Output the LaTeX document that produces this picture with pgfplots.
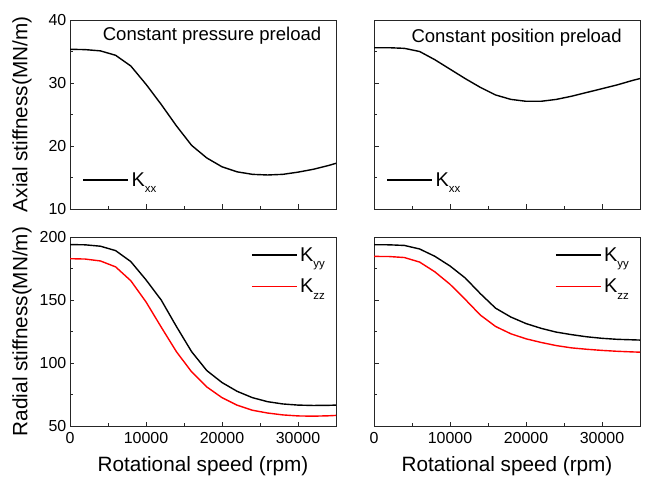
\documentclass[border=0pt]{standalone}
\usepackage{fontspec}
\setmainfont{Liberation Sans}
\usepackage{pgfplots}
\pgfplotsset{compat=1.18}
\newcommand{\Ksub}[1]{K\raisebox{-6.5bp}{\fontsize{11.5}{11.5}\selectfont #1}}
\pgfplotsset{
  panel/.style={
    scale only axis, width=266bp, height=189bp, anchor=north west,
    xmin=0, xmax=35000,
    xtick={0,10000,20000,30000}, minor xtick={5000,15000,25000,35000},
    scaled ticks=false,
    /pgf/number format/assume math mode=true,
    /pgf/number format/set thousands separator={},
    tick align=inside, xtick pos=bottom, ytick pos=left,
    major tick length=4.5bp, minor tick length=2.7bp,
    axis line style={line width=0.8bp, black!85},
    every tick/.style={black!85, line width=0.7bp},
    tick label style={font=\fontsize{16}{18}\selectfont},
    xticklabel style={inner sep=0pt, yshift=-6bp},
    yticklabel style={inner sep=0pt, xshift=-3.5bp},
    every axis y label/.style={at={(axis description cs:-0.18,0.5)}, rotate=90, anchor=center, font=\fontsize{20.8}{22}\selectfont},
    every axis x label/.style={at={(axis description cs:0.5,-0.21)}, anchor=center, font=\fontsize{20.8}{22}\selectfont},
    legend cell align=left,
    legend image code/.code={\draw[#1, line width=1.5bp] (0bp,0bp) -- (45bp,0bp);},
    legend style={draw=none, fill=none, inner sep=0pt,
      font=\fontsize{20}{22}\selectfont,
      nodes={inner sep=2.5bp}},
  },
  kline/.style={black, line width=1.4bp},
  rline/.style={red, line width=1.4bp},
}
\begin{document}
\begin{tikzpicture}
\path (0bp,0bp) rectangle (648bp,-480bp);
% top left
\begin{axis}[panel, at={(70bp,-20bp)},
  ymin=10, ymax=40, ytick={10,20,30,40}, minor ytick={15,25,35},
  xticklabels={}, ylabel={Axial stiffness(MN/m)},
  legend style={at={(axis description cs:0.047,0.153)}, anchor=west}]
\addplot[kline] coordinates {
(0,35.35) (2000,35.3) (4000,35.1) (6000,34.4) (8000,32.7) (10000,29.8)
(12000,26.6) (14000,23.2) (16000,20.1) (18000,18.1) (20000,16.7) (22000,15.9)
(24000,15.5) (26000,15.4) (28000,15.5) (30000,15.85) (32000,16.3) (34000,16.9) (35000,17.25)};
\addlegendentry{\Ksub{xx}}
\node[anchor=base, font=\fontsize{18.6}{20}\selectfont] at (axis description cs:0.534,0.894) {Constant pressure preload};
\end{axis}
% top right
\begin{axis}[panel, at={(374bp,-20bp)},
  ymin=10, ymax=40, ytick={10,20,30,40}, minor ytick={15,25,35},
  xticklabels={}, yticklabels={},
  legend style={at={(axis description cs:0.047,0.153)}, anchor=west}]
\addplot[kline] coordinates {
(0,35.6) (2000,35.6) (4000,35.5) (6000,35.0) (8000,33.7) (10000,32.2)
(12000,30.7) (14000,29.3) (16000,28.1) (18000,27.4) (20000,27.1) (22000,27.1)
(24000,27.4) (26000,27.9) (28000,28.5) (30000,29.1) (32000,29.7) (34000,30.4) (35000,30.7)};
\addlegendentry{\Ksub{xx}}
\node[anchor=base, font=\fontsize{18.6}{20}\selectfont] at (axis description cs:0.536,0.88) {Constant position preload};
\end{axis}
% bottom left
\begin{axis}[panel, at={(70bp,-237bp)},
  ymin=50, ymax=200, ytick={50,100,150,200}, minor ytick={75,125,175},
  ylabel={Radial stiffness(MN/m)}, xlabel={Rotational speed (rpm)},
  legend style={at={(axis description cs:0.68,0.958)}, anchor=north west, row sep=11bp}]
\addplot[kline] coordinates {
(0,194) (2000,193.8) (4000,192.7) (6000,189.2) (8000,180.5) (10000,166)
(12000,150) (14000,129) (16000,109) (18000,94) (20000,84.5) (22000,77.5)
(24000,72.5) (26000,69.3) (28000,67.5) (30000,66.6) (32000,66.3) (34000,66.4) (35000,66.6)};
\addlegendentry{\Ksub{yy}}
\addplot[rline] coordinates {
(0,182.8) (2000,182.5) (4000,181) (6000,176.3) (8000,165.3) (10000,148.5)
(12000,128.5) (14000,109) (16000,93) (18000,81) (20000,72.5) (22000,66.5)
(24000,62.5) (26000,60.3) (28000,58.8) (30000,58.0) (32000,57.8) (34000,58.1) (35000,58.4)};
\addlegendentry{\Ksub{zz}}
\end{axis}
% bottom right
\begin{axis}[panel, at={(374bp,-237bp)},
  ymin=50, ymax=200, ytick={50,100,150,200}, minor ytick={75,125,175},
  yticklabels={}, xlabel={Rotational speed (rpm)},
  legend style={at={(axis description cs:0.68,0.958)}, anchor=north west, row sep=11bp}]
\addplot[kline] coordinates {
(0,193.9) (2000,193.8) (4000,193.3) (6000,190.5) (8000,184.7) (10000,177)
(12000,167.5) (14000,155) (16000,143.5) (18000,136.5) (20000,131.3) (22000,127.5)
(24000,124.5) (26000,122.5) (28000,120.8) (30000,119.6) (32000,118.8) (34000,118.4) (35000,118.2)};
\addlegendentry{\Ksub{yy}}
\addplot[rline] coordinates {
(0,184.6) (2000,184.5) (4000,183.7) (6000,180.1) (8000,172.4) (10000,162.5)
(12000,150.5) (14000,138) (16000,129) (18000,123.2) (20000,119.2) (22000,116.3)
(24000,113.8) (26000,112) (28000,110.9) (30000,110) (32000,109.3) (34000,108.8) (35000,108.6)};
\addlegendentry{\Ksub{zz}}
\end{axis}
\end{tikzpicture}
\end{document}
